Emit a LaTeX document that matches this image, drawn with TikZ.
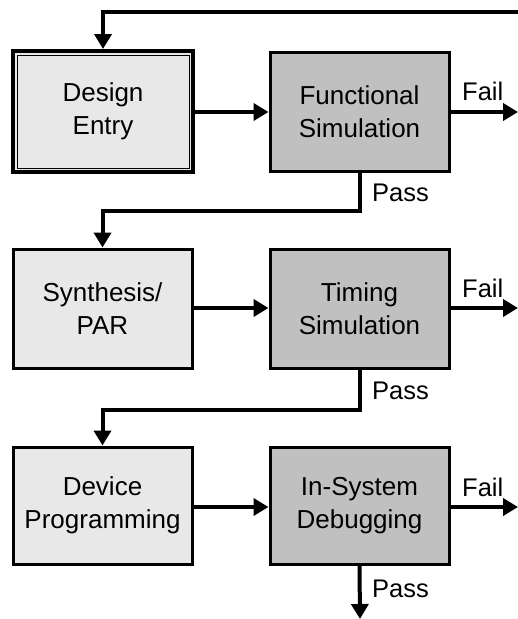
\documentclass[tikz,border=0pt]{standalone}
\usepackage{fontspec}
\setmainfont{Liberation Sans}
\usetikzlibrary{arrows.meta}
\definecolor{lightbox}{HTML}{E8E8E8}
\definecolor{darkbox}{HTML}{C0C0C0}
\begin{document}
\begin{tikzpicture}[x=1pt,y=1pt,
  box/.style={draw=black,line width=3pt,minimum width=179pt,minimum height=119pt,align=center,font=\fontsize{26}{33}\selectfont,inner sep=0pt},
  lbox/.style={box,fill=lightbox},
  dbox/.style={box,fill=darkbox},
  conn/.style={line width=4pt,-{Triangle[length=15pt,width=17pt]}},
  wire/.style={line width=4pt},
  lbl/.style={font=\fontsize{25.5}{30}\selectfont,anchor=base west,inner sep=0pt}]
\useasboundingbox (0,0) rectangle (518,-619);
\node[lbox,line width=4pt,minimum width=180pt,minimum height=121pt] (de) at (103,-111.5) {Design\\Entry};
\draw[line width=1pt] ([shift={(6,-6)}]de.north west) rectangle ([shift={(-6,6)}]de.south east);
\node[dbox] (fs) at (359.5,-111.5) {Functional\\Simulation};
\node[lbox] (sp) at (102.5,-308.5) {Synthesis/\\PAR};
\node[dbox] (ts) at (359.5,-308.5) {Timing\\Simulation};
\node[lbox,minimum height=117pt] (dp) at (102.5,-505.5) {Device\\Programming};
\node[dbox,minimum height=117pt] (db) at (359.5,-505.5) {In-System\\Debugging};
\coordinate (fb) at (518,-12);
\coordinate (f1) at (518,-112);
\coordinate (f2) at (518,-308);
\coordinate (f3) at (518,-507);
\coordinate (pe) at (360,-619);
\draw[conn] (fb) -| (de.north);
\draw[conn] (de.east |- 0,-112) -- (fs.west |- 0,-112);
\draw[conn] (fs.east |- f1) -- (f1);
\draw[conn] (fs.south) -- ++(0,-38) -| (sp.north);
\draw[conn] (sp.east |- f2) -- (ts.west |- f2);
\draw[conn] (ts.east |- f2) -- (f2);
\draw[conn] (ts.south) -- ++(0,-40) -| (dp.north);
\draw[conn] (dp.east |- f3) -- (db.west |- f3);
\draw[conn] (db.east |- f3) -- (f3);
\draw[conn] (db.south) -- (pe);
\node[lbl] (fl1) at (462,-100) {Fail};
\node[lbl] (fl2) at (462,-297) {Fail};
\node[lbl] (fl3) at (462,-496) {Fail};
\node[lbl] (pl1) at (372,-201) {Pass};
\node[lbl] (pl2) at (372,-399) {Pass};
\node[lbl] (pl3) at (372,-597) {Pass};
\end{tikzpicture}
\end{document}
